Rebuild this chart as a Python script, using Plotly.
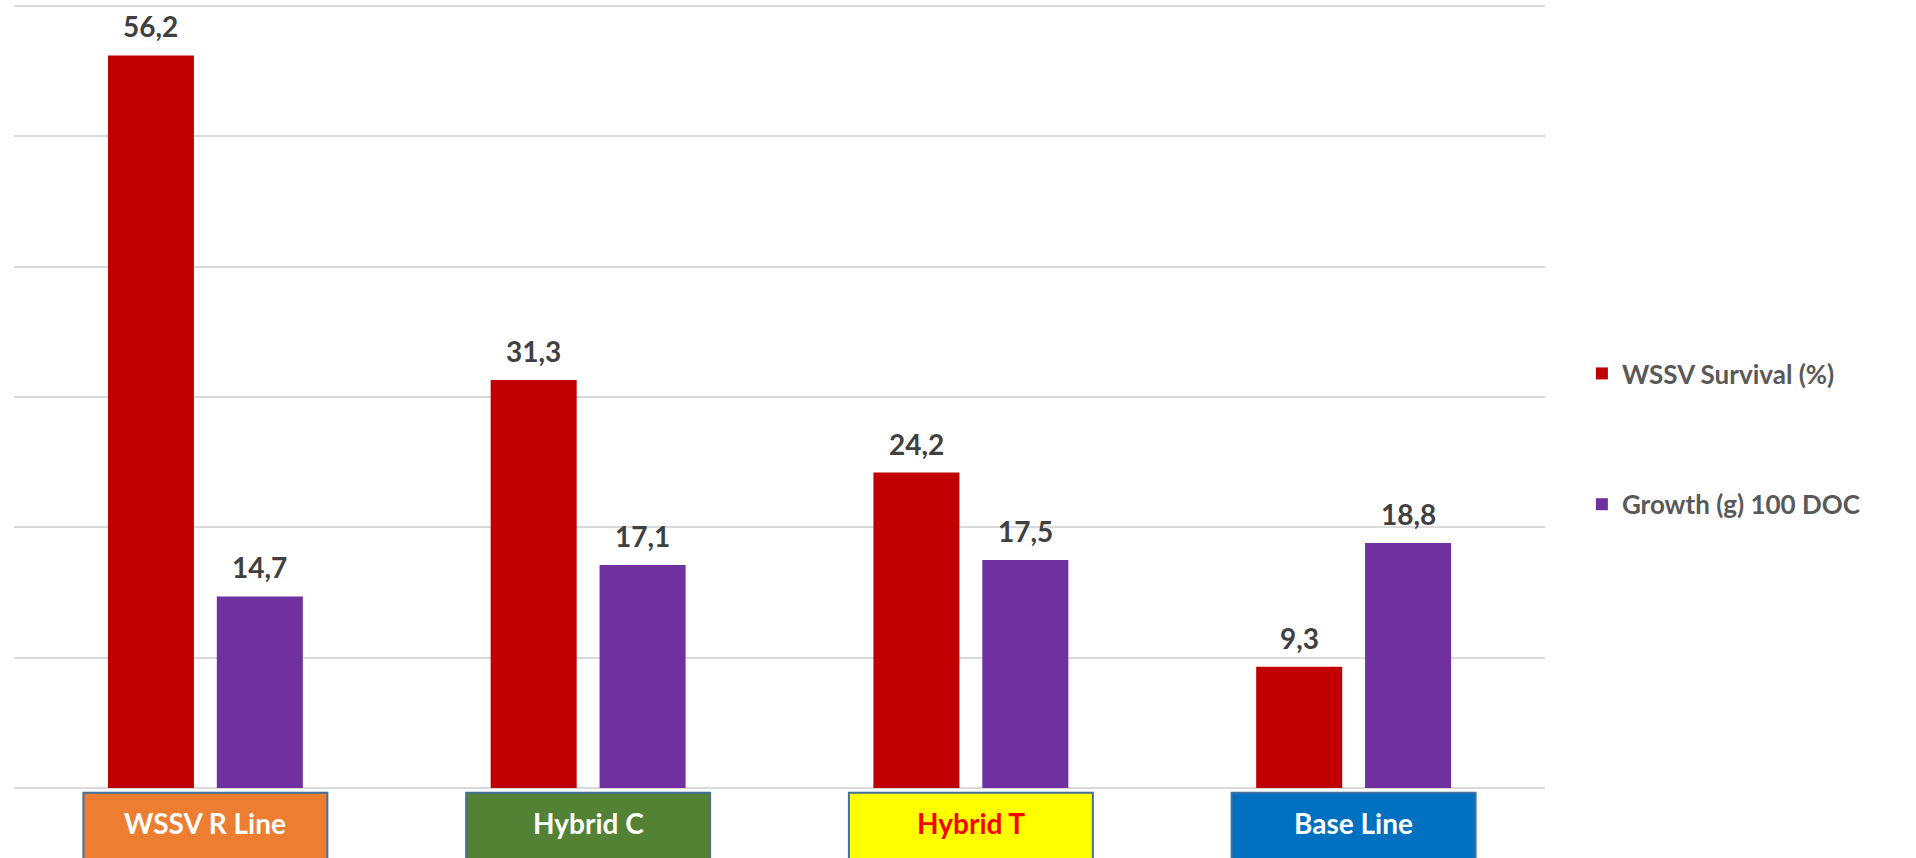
import plotly.graph_objects as go

# Categories (genetic lines) and measured values
lines = ["WSSV R Line", "Hybrid C", "Hybrid T", "Base Line"]
survival = [56.2, 31.3, 24.2, 9.3]          # WSSV Survival (%)
growth = [14.7, 17.1, 17.5, 18.8]           # Growth (g) at 100 DOC

series_names = ["WSSV Survival (%)", "Growth (g) 100 DOC"]
series_colors = ["#C00000", "#7030A0"]

# Styling of the category badges under the axis
badge_fill = ["#ED7D31", "#548235", "#FFFF00", "#0070C0"]
badge_text = ["#FFFFFF", "#FFFFFF", "#FF0000", "#FFFFFF"]

FONT = "Lato, 'Open Sans', Arial, sans-serif"
GRID = "#D9D9D9"

fig = go.Figure()
for i, (name, vals, col) in enumerate(zip(series_names, [survival, growth], series_colors)):
    fig.add_trace(go.Bar(
        x=lines, y=vals, name=name, marker_color=col,
        marker_line_width=0, legendgroup=f"g{i}",
        hoverinfo="x+y+name",
    ))

# Value labels above each bar (comma as decimal separator)
slot_offset = 0.1423
for k, vals in enumerate([survival, growth]):
    dx = -slot_offset if k == 0 else slot_offset
    for i, v in enumerate(vals):
        fig.add_annotation(
            x=i + dx, y=v, xref="x", yref="y",
            text=f"<b>{v:.1f}</b>".replace(".", ","),
            showarrow=False, yanchor="middle", yshift=29,
            font=dict(family=FONT, size=28, color="#404040"),
        )

# Coloured category badges
half_w = 0.3187
for i, lab in enumerate(lines):
    fig.add_shape(
        type="rect", xref="x", yref="paper",
        x0=i - half_w, x1=i + half_w, y0=-0.006, y1=-0.2,
        fillcolor=badge_fill[i], line=dict(color="#41719C", width=2),
        layer="above",
    )
    fig.add_annotation(
        x=i, y=-0.045, xref="x", yref="paper", yanchor="middle",
        text=f"<b>{lab}</b>", showarrow=False,
        font=dict(family=FONT, size=28, color=badge_text[i]),
    )

fig.update_layout(
    width=1916, height=858,
    margin=dict(l=14, r=371, t=2, b=70),
    paper_bgcolor="white", plot_bgcolor="white",
    barmode="group", bargap=0.431, bargroupgap=0.21,
    font=dict(family=FONT),
    showlegend=True,
    legend=dict(
        x=1.0241, xanchor="left", y=0.444, yanchor="middle",
        traceorder="grouped", tracegroupgap=94,
        font=dict(family=FONT, size=26, color="#595959", weight="bold"),
        bgcolor="rgba(0,0,0,0)",
    ),
    xaxis=dict(showticklabels=False, showgrid=False, zeroline=False,
               showline=False, ticks=""),
    yaxis=dict(range=[0, 60.3], tick0=0, dtick=10, showticklabels=False,
               gridcolor=GRID, gridwidth=2,
               zeroline=True, zerolinecolor=GRID, zerolinewidth=2,
               showline=False, ticks=""),
)

fig.write_html("out.html")
